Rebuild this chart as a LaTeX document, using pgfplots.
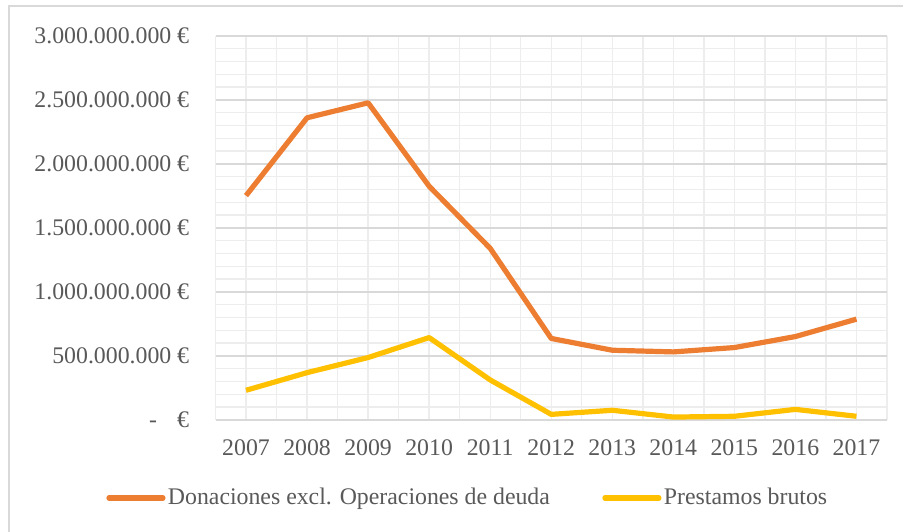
\documentclass[border=0pt]{standalone}
\usepackage{fontspec}
\setmainfont{Liberation Serif}
\usepackage{pgfplots}
\pgfplotsset{compat=1.18}
\definecolor{donac}{HTML}{ED7D31}
\definecolor{prest}{HTML}{FFC000}
\definecolor{txt}{HTML}{595959}
\definecolor{gmaj}{HTML}{D9D9D9}
\definecolor{gmin}{HTML}{EDEDED}

\begin{document}
\fontsize{11.9bp}{14bp}\selectfont
\begin{tikzpicture}
\useasboundingbox (0,0) rectangle (451.5bp,266bp);
\draw[gmaj, line width=0.9bp] (4.5bp,-5bp) rectangle (452.2bp,263bp);
\begin{axis}[
    at={(107.75bp,56bp)}, anchor=south west,
    scale only axis,
    width=335.75bp, height=192bp,
    xmin=2006.5, xmax=2017.5,
    ymin=0, ymax=3e9,
    axis line style={draw=none},
    major tick length=0pt, minor tick length=0pt,
    xtick={2007,...,2017},
    xticklabels={2007,2008,2009,2010,2011,2012,2013,2014,2015,2016,2017},
    minor xtick={2006.5,2007,...,2017.5},
    ytick={0,5e8,1e9,1.5e9,2e9,2.5e9,3e9},
    yticklabels={{-\hspace{0.85em}€},{500.000.000 €},{1.000.000.000 €},{1.500.000.000 €},{2.000.000.000 €},{2.500.000.000 €},{3.000.000.000 €}},
    minor ytick={1e8,2e8,3e8,4e8,6e8,7e8,8e8,9e8,1.1e9,1.2e9,1.3e9,1.4e9,1.6e9,1.7e9,1.8e9,1.9e9,2.1e9,2.2e9,2.3e9,2.4e9,2.6e9,2.7e9,2.8e9,2.9e9},
    scaled y ticks=false,
    xminorgrids=true, ymajorgrids=true, yminorgrids=true,
    major grid style={gmaj, line width=0.9bp},
    minor grid style={gmin, line width=0.7bp},
    tick label style={text=txt},
    xticklabel style={yshift=-5.5bp},
    yticklabel style={xshift=-9bp},
    legend columns=2,
    legend style={at={(0.376,-0.203)}, anchor=center, draw=none, fill=none,
        text=txt, inner sep=0pt, nodes={inner sep=1.2bp},
        /tikz/every even column/.append style={column sep=25bp}},
    legend image code/.code={\draw[#1, line cap=round] (0bp,0bp) -- (27bp,0bp);},
    every axis plot/.append style={line width=2.6bp, line join=round},
]
\addplot[donac] coordinates {
    (2007,1.753e9) (2008,2.361e9) (2009,2.478e9) (2010,1.826e9) (2011,1.341e9)
    (2012,0.637e9) (2013,0.545e9) (2014,0.532e9) (2015,0.566e9) (2016,0.652e9)
    (2017,0.788e9)
};
\addplot[prest] coordinates {
    (2007,0.232e9) (2008,0.370e9) (2009,0.488e9) (2010,0.644e9) (2011,0.313e9)
    (2012,0.044e9) (2013,0.076e9) (2014,0.023e9) (2015,0.029e9) (2016,0.083e9)
    (2017,0.029e9)
};
\legend{Donaciones excl. Operaciones de deuda, Prestamos brutos}
\end{axis}
\end{tikzpicture}
\end{document}
